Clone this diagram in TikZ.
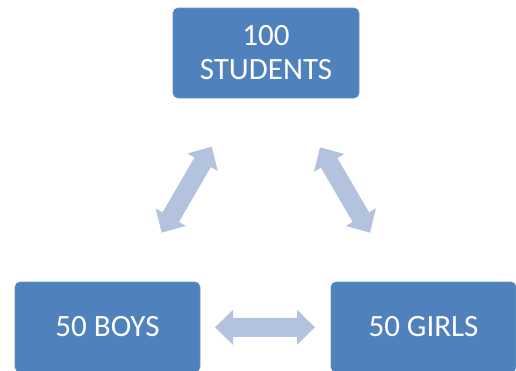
\documentclass[tikz,border=0pt]{standalone}
\usepackage{fontspec}
\setmainfont{Carlito}
\usetikzlibrary{calc}
\definecolor{boxblue}{HTML}{4F81BD}
\definecolor{arrowblue}{HTML}{B3C3DD}
\tikzset{
  box/.style={fill=boxblue, draw=boxblue!85!white, line width=0.6pt, rounded corners=5pt,
    text=white, font=\fontsize{31}{34}\selectfont, align=center,
    minimum width=185pt, minimum height=90pt, inner sep=0pt},
  arrowfill/.style={fill=arrowblue}
}
\newcommand\dblarrow[2]{%
  \path let \p1=($(#2)-(#1)$), \n1={atan2(\y1,\x1)}, \n2={veclen(\x1,\y1)} in
    \pgfextra{\xdef\arrang{\n1}\xdef\arrlen{\n2}};
  \begin{scope}[shift={(#1)}, rotate=\arrang]
    \fill[arrowfill] (0,0) -- (18,17.5) -- (18,9.5) -- (\arrlen-18,9.5)
      -- (\arrlen-18,17.5) -- (\arrlen,0) -- (\arrlen-18,-17.5) -- (\arrlen-18,-9.5)
      -- (18,-9.5) -- (18,-17.5) -- cycle;
  \end{scope}}
\begin{document}
\begin{tikzpicture}[x=1pt,y=1pt]
  \useasboundingbox (0,0) rectangle (516,-370);
  \begin{scope}
    \clip (0,0) rectangle (516,-370);
    \node[box, minimum width=186pt] (top) at (266,-53) {100\\STUDENTS};
    \node[box] (boys) at (107.5,-327) {50 BOYS};
    \node[box] (girls) at (423.5,-327) {50 GIRLS};
  \end{scope}
  \coordinate (lb) at (161.7,-232.7);
  \coordinate (lt) at (211.7,-146.7);
  \coordinate (rt) at (320,-147.3);
  \coordinate (rb) at (370,-232.7);
  \coordinate (hl) at (215,-327.3);
  \coordinate (hr) at (315,-327.3);
  \dblarrow{lb}{lt}
  \dblarrow{rt}{rb}
  \dblarrow{hl}{hr}
\end{tikzpicture}
\end{document}
